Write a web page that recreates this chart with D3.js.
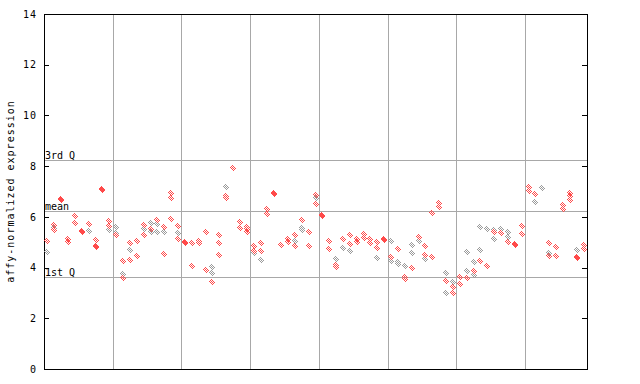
<!DOCTYPE html>
<html>
<head>
<meta charset="utf-8">
<script src="https://cdn.jsdelivr.net/npm/d3@7"></script>
<style>
  body { margin: 0; background: #fff; }
  text { font-family: "DejaVu Sans Mono", monospace; font-size: 10px; }
</style>
</head>
<body>
<svg id="chart" width="640" height="384"></svg>
<script>
// replicate values per sample (index = position on x axis)
const redSeries = [
  [5.06], [5.68, 5.48], [6.7, 6.65], [5.11, 5.0], [6.03, 5.74], [5.45, 5.42], [5.72], [5.09, 4.85, 4.8], [7.1, 7.05], [5.85, 5.64],
  [5.27], [4.26, 3.58], [4.95, 4.3], [5.05, 4.46], [5.68, 5.27], [5.53], [5.87], [5.59, 4.53], [6.93, 6.76, 5.9], [5.64, 5.13],
  [5.0, 4.98], [4.98, 4.06], [5.06, 4.95], [5.39, 3.9], [3.42], [5.27, 4.95, 4.48], [6.83, 6.75], [7.91],
  [5.78, 5.55], [5.61, 5.51, 5.41], [4.86, 4.66], [4.95, 4.64], [6.3, 6.1], [6.93, 6.9], [4.88], [5.14, 5.02], [5.27, 4.85], [5.86],
  [5.41, 4.84], [6.86, 6.49], [6.07, 6.02], [5.05, 4.73], [4.1, 4.03], [5.11], [5.27, 4.92], [5.11, 5.0], [5.32, 5.17], [5.14, 4.95],
  [5.0, 4.76], [5.11, 5.08], [4.4], [4.74], [3.64, 3.55], [3.99], [5.22], [4.84, 4.5], [6.16, 4.43], [6.53, 6.37],
  [3.46], [3.22, 2.98], [3.62, 3.34], [3.58], [3.85], [4.26], [4.07, 4.05], [5.39], [5.35], [5.0],
  [4.92, 4.9], [5.63, 5.31], [7.19, 7.02], [6.9], [], [4.95, 4.47], [4.82, 4.44], [6.47, 6.3], [6.93, 6.83, 6.65], [4.43, 4.37], [4.9, 4.72]
];
const greySeries = [
  [4.6], [5.55], [], [], [], [], [5.44], [], [], [5.48],
  [5.59, 5.37], [3.73], [4.69], [], [5.51], [5.74, 5.4], [5.7, 5.39], [5.39], [], [5.35],
  [], [], [], [], [4.03, 3.77], [], [7.16], [],
  [], [], [4.59], [4.3], [], [], [], [], [5.05], [5.57, 5.5],
  [], [6.75], [], [], [4.33], [4.76], [4.64], [], [], [],
  [4.37], [], [5.03, 4.27], [4.22, 4.14], [4.05], [4.88, 4.56], [5.03], [4.33], [], [],
  [3.77, 2.98], [3.42], [], [4.6, 3.85], [4.22, 3.69], [5.59, 4.69], [5.52], [5.48, 5.11], [5.52], [5.39, 5.19],
  [], [], [], [6.57], [7.12], [4.56], [], [], [], [4.68], []
];
const yTicks = [0, 2, 4, 6, 8, 10, 12, 14];
const refLines = [
  { label: "3rd Q", value: 8.23 },
  { label: "mean", value: 6.22 },
  { label: "1st Q", value: 3.62 }
];
const nSamples = 79;
const groupSize = 10;

const margin = { top: 14, right: 53, bottom: 15, left: 44 };
const width = 640 - margin.left - margin.right;
const height = 384 - margin.top - margin.bottom;

const svg = d3.select('#chart');

// checkered fill like the original bitmap markers
const defs = svg.append('defs');
[['red', '#ff4a4a'], ['grey', '#9a9a9a']].forEach(([name, color]) => {
  const p = defs.append('pattern')
    .attr('id', `chk-${name}`)
    .attr('patternUnits', 'userSpaceOnUse')
    .attr('width', 2)
    .attr('height', 2);
  p.append('rect').attr('width', 1).attr('height', 1).attr('fill', color);
  p.append('rect').attr('x', 1).attr('y', 1).attr('width', 1).attr('height', 1).attr('fill', color);
});

const g = svg.append('g').attr('transform', `translate(${margin.left},${margin.top})`);

const x = d3.scaleLinear().domain([-0.5, nSamples - 0.5]).range([0, width]);
const y = d3.scaleLinear().domain([0, 14]).range([height, 0]);

// vertical group separators
const seps = d3.range(groupSize - 0.5, nSamples - 1, groupSize);
g.selectAll('.vgrid')
  .data(seps)
  .enter()
  .append('line')
  .attr('x1', d => Math.round(x(d)) + 0.5)
  .attr('x2', d => Math.round(x(d)) + 0.5)
  .attr('y1', 0)
  .attr('y2', height)
  .attr('stroke', '#a8a8a8');

// quartile / mean lines
g.selectAll('.hgrid')
  .data(refLines)
  .enter()
  .append('line')
  .attr('x1', 0)
  .attr('x2', width)
  .attr('y1', d => Math.round(y(d.value)) + 0.5)
  .attr('y2', d => Math.round(y(d.value)) + 0.5)
  .attr('stroke', '#a8a8a8');

g.selectAll('.reflabel')
  .data(refLines)
  .enter()
  .append('text')
  .attr('x', 1)
  .attr('y', d => Math.round(y(d.value)) - 1)
  .attr('fill', '#000')
  .text(d => d.label);

// axes
const yAxis = d3.axisLeft(y).tickValues(yTicks).tickSize(0).tickPadding(7);
const ya = g.append('g').call(yAxis);
ya.select('.domain').remove();
ya.selectAll('text')
  .attr('font-family', '"DejaVu Sans Mono", monospace')
  .attr('font-size', 10)
  .attr('letter-spacing', 1)
  .attr('fill', '#000');

g.selectAll('.tickl')
  .data(yTicks)
  .enter()
  .append('line')
  .attr('x1', 0)
  .attr('x2', 5)
  .attr('y1', d => Math.round(y(d)) + 0.5)
  .attr('y2', d => Math.round(y(d)) + 0.5)
  .attr('stroke', '#000');
g.selectAll('.tickr')
  .data(yTicks)
  .enter()
  .append('line')
  .attr('x1', width - 5)
  .attr('x2', width)
  .attr('y1', d => Math.round(y(d)) + 0.5)
  .attr('y2', d => Math.round(y(d)) + 0.5)
  .attr('stroke', '#000');

g.append('rect')
  .attr('x', 0.5)
  .attr('y', 0.5)
  .attr('width', width)
  .attr('height', height)
  .attr('fill', 'none')
  .attr('stroke', '#000');

svg.append('text')
  .attr('transform', `translate(14,${margin.top + height / 2}) rotate(-90)`)
  .attr('text-anchor', 'middle')
  .attr('letter-spacing', 1)
  .attr('fill', '#000')
  .text('affy-normalized expression');

// points
function flatten(series) {
  const out = [];
  series.forEach((vals, i) => vals.forEach(v => out.push({ i, v })));
  return out;
}
const diamond = 'M0,-3.5L3.5,0L0,3.5L-3.5,0Z';
[['grey', greySeries], ['red', redSeries]].forEach(([name, series]) => {
  g.selectAll(`.pt-${name}`)
    .data(flatten(series))
    .enter()
    .append('path')
    .attr('class', `pt-${name}`)
    .attr('d', diamond)
    .attr('transform', d => `translate(${Math.round(x(d.i))},${Math.round(y(d.v))})`)
    .attr('fill', `url(#chk-${name})`)
    .attr('shape-rendering', 'crispEdges');
});
</script>
</body>
</html>
